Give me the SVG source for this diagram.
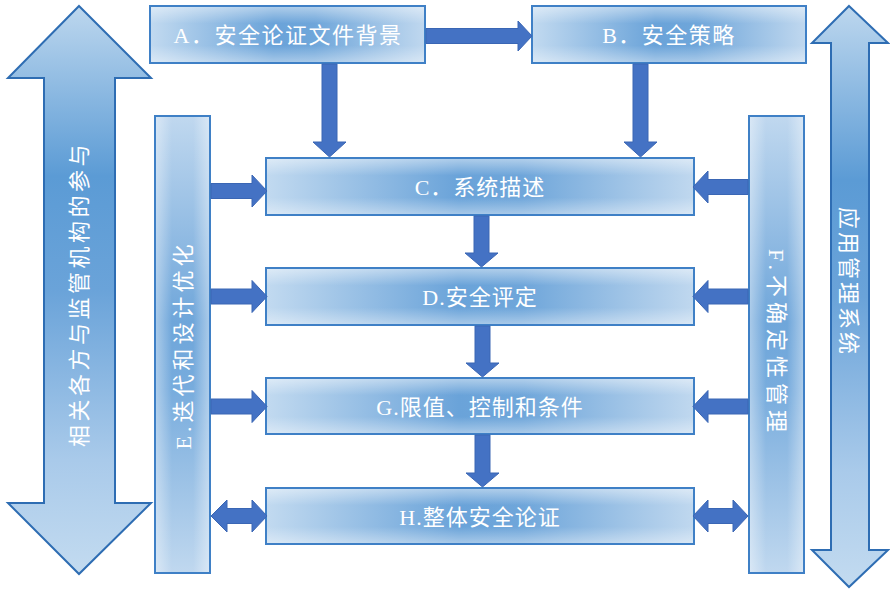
<svg xmlns="http://www.w3.org/2000/svg" width="890" height="589" viewBox="0 0 890 589">
<defs>
<linearGradient id="gH" x1="0" y1="0" x2="1" y2="0">
<stop offset="0" stop-color="#C2DAF0"/>
<stop offset="0.45" stop-color="#6AA3D9"/>
<stop offset="0.6" stop-color="#6FA6DA"/>
<stop offset="1" stop-color="#C0D8EF"/>
</linearGradient>
<linearGradient id="gHs" x1="0" y1="0" x2="0" y2="1">
<stop offset="0" stop-color="#fff" stop-opacity="0.45"/>
<stop offset="0.3" stop-color="#fff" stop-opacity="0"/>
<stop offset="0.7" stop-color="#fff" stop-opacity="0"/>
<stop offset="1" stop-color="#fff" stop-opacity="0.4"/>
</linearGradient>
<linearGradient id="gV" x1="0" y1="0" x2="0" y2="1">
<stop offset="0" stop-color="#C0D8EF"/>
<stop offset="0.45" stop-color="#6FA6DA"/>
<stop offset="0.6" stop-color="#78ACDD"/>
<stop offset="1" stop-color="#C0D8EF"/>
</linearGradient>
<linearGradient id="gVs" x1="0" y1="0" x2="1" y2="0">
<stop offset="0" stop-color="#fff" stop-opacity="0.4"/>
<stop offset="0.3" stop-color="#fff" stop-opacity="0"/>
<stop offset="0.7" stop-color="#fff" stop-opacity="0"/>
<stop offset="1" stop-color="#fff" stop-opacity="0.4"/>
</linearGradient>
<linearGradient id="gBig" x1="0" y1="0" x2="0" y2="1">
<stop offset="0" stop-color="#BDD7EE"/>
<stop offset="0.3" stop-color="#5B9BD5"/>
<stop offset="0.5" stop-color="#6AA3D9"/>
<stop offset="0.8" stop-color="#A9CAEA"/>
<stop offset="1" stop-color="#C3DBF0"/>
</linearGradient>
<style>
.box{stroke:#3F80C6;stroke-width:2}
.h{fill:url(#gH)}
.hs{fill:url(#gHs)}
.v{fill:url(#gV)}
.vs{fill:url(#gVs)}
.big{fill:url(#gBig);stroke:#2E6DB3;stroke-width:2;stroke-linejoin:miter}
.con{fill:#4472C4;stroke:#3A66B4;stroke-width:1}
.t{font-family:"Liberation Serif","Noto Sans CJK SC",serif;font-size:22px;fill:#ffffff;text-anchor:middle}
</style>
</defs>

<g id="left-arrow">
<path class="big" d="M79,6 L151,78 H115 V503 H151 L79,574 L8,503 H44 V78 H8 Z"/>
<text class="t" transform="translate(87,294) rotate(-90)" style="letter-spacing:3.5px">相关各方与监管机构的参与</text>
</g>

<g id="right-arrow">
<path class="big" d="M849,6 L888,43 H869 V550 H888 L849,587 L812,550 H831 V43 H812 Z"/>
<text class="t" transform="translate(841,282) rotate(90)" style="letter-spacing:3px">应用管理系统</text>
</g>

<g id="nodeE">
<rect class="v box" x="155" y="116" width="55" height="457"/>
<rect class="vs" x="156" y="117" width="53" height="455"/>
<text class="t" transform="translate(191,345) rotate(-90)" style="letter-spacing:4px">E.迭代和设计优化</text>
</g>

<g id="nodeF">
<rect class="v box" x="749" y="116" width="55" height="457"/>
<rect class="vs" x="750" y="117" width="53" height="455"/>
<text class="t" transform="translate(769,343) rotate(90)" style="letter-spacing:5px">F.不确定性管理</text>
</g>

<g id="nodeA">
<rect class="h box" x="150" y="6" width="275" height="57"/>
<rect class="hs" x="151" y="7" width="273" height="55"/>
<text class="t" x="288" y="43" style="letter-spacing:1.5px">A．安全论证文件背景</text>
</g>

<g id="nodeB">
<rect class="h box" x="532" y="6" width="274" height="57"/>
<rect class="hs" x="533" y="7" width="272" height="55"/>
<text class="t" x="669" y="43" style="letter-spacing:1.5px">B．安全策略</text>
</g>

<g id="nodeC">
<rect class="h box" x="266" y="158" width="428" height="57"/>
<rect class="hs" x="267" y="159" width="426" height="55"/>
<text class="t" x="480" y="195" style="letter-spacing:1px">C．系统描述</text>
</g>

<g id="nodeD">
<rect class="h box" x="266" y="268" width="428" height="57"/>
<rect class="hs" x="267" y="269" width="426" height="55"/>
<text class="t" x="480" y="305" style="letter-spacing:1px">D.安全评定</text>
</g>

<g id="nodeG">
<rect class="h box" x="266" y="378" width="428" height="56"/>
<rect class="hs" x="267" y="379" width="426" height="54"/>
<text class="t" x="480" y="415" style="letter-spacing:1px">G.限值、控制和条件</text>
</g>

<g id="nodeH">
<rect class="h box" x="266" y="488" width="428" height="56"/>
<rect class="hs" x="267" y="489" width="426" height="54"/>
<text class="t" x="480" y="525" style="letter-spacing:1px">H.整体安全论证</text>
</g>

<g id="connectors">
<!-- A -> B -->
<path class="con" d="M426,28.5 H518 V21 L532,36 L518,51 V43.5 H426 Z"/>
<!-- A -> C -->
<path class="con" d="M322,64 H337 V142 H346 L329.5,157 L313,142 H322 Z"/>
<!-- B -> C -->
<path class="con" d="M633,64 H648 V142 H657 L640.5,157 L624,142 H633 Z"/>
<!-- C -> D -->
<path class="con" d="M474,216 H489 V253 H498 L481.5,267 L465,253 H474 Z"/>
<!-- D -> G -->
<path class="con" d="M475,326 H490 V363 H499 L482.5,377 L466,363 H475 Z"/>
<!-- G -> H -->
<path class="con" d="M475,435 H490 V473 H499 L482.5,487 L466,473 H475 Z"/>
<!-- E -> C -->
<path class="con" d="M211,183.5 H252 V175 L267,191 L252,207 V198.5 H211 Z"/>
<!-- E -> D -->
<path class="con" d="M211,289 H252 V280.5 L267,296.5 L252,312.5 V304 H211 Z"/>
<!-- E -> G -->
<path class="con" d="M211,399 H252 V390.5 L267,406.5 L252,422.5 V414 H211 Z"/>
<!-- E <-> H -->
<path class="con" d="M211,516 L227,500 V508.5 H252 V500 L267,516 L252,532 V523.5 H227 V532 Z"/>
<!-- F -> C -->
<path class="con" d="M748,179.5 H708 V171 L693,187 L708,203 V194.5 H748 Z"/>
<!-- F -> D -->
<path class="con" d="M748,289 H708 V280.5 L693,296.5 L708,312.5 V304 H748 Z"/>
<!-- F -> G -->
<path class="con" d="M748,399 H708 V390.5 L693,406.5 L708,422.5 V414 H748 Z"/>
<!-- F <-> H -->
<path class="con" d="M693,516 L708,500 V508.5 H733 V500 L748,516 L733,532 V523.5 H708 V532 Z"/>
</g>
</svg>
